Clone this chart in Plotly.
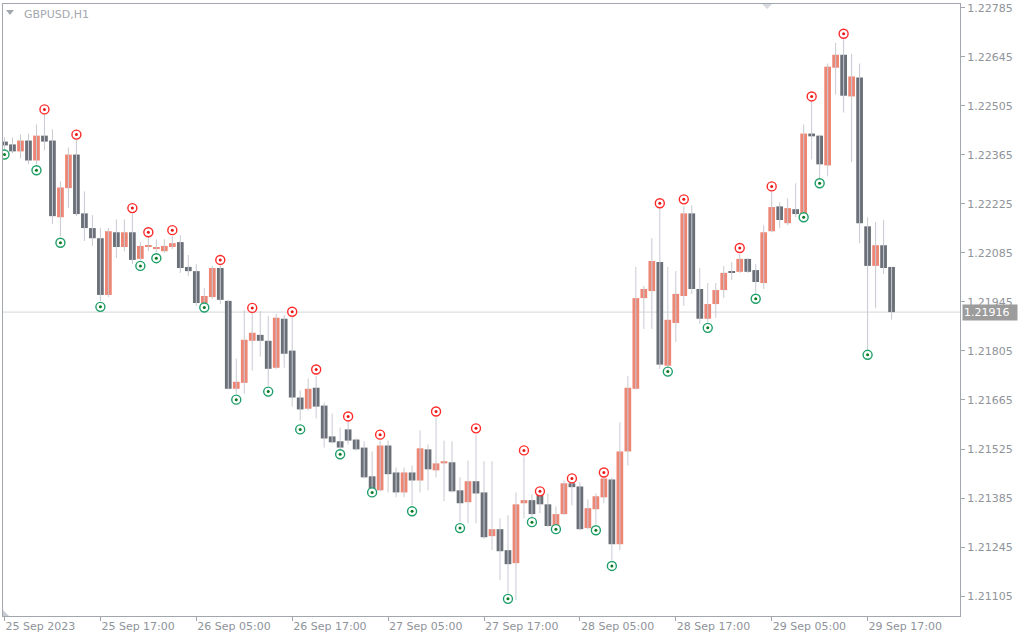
import plotly.graph_objects as go
import numpy as np

# ---------------- data (GBPUSD, H1, from 25 Sep 05:00) ----------------
opens = [1.22403, 1.22395, 1.22375, 1.22406, 1.22349, 1.22420, 1.22406, 1.22187, 1.22270, 1.22366,
         1.22198, 1.22156, 1.22127, 1.21965, 1.22144, 1.22102, 1.22144, 1.22068, 1.22102, 1.22096,
         1.22090, 1.22102, 1.22116, 1.22045, 1.22033, 1.21942, 1.21959, 1.22042, 1.21948, 1.21697,
         1.21714, 1.21834, 1.21851, 1.21834, 1.21757, 1.21897, 1.21806, 1.21672, 1.21640, 1.21700,
         1.21649, 1.21561, 1.21547, 1.21581, 1.21552, 1.21529, 1.21447, 1.21407, 1.21535, 1.21458,
         1.21401, 1.21458, 1.21435, 1.21524, 1.21464, 1.21484, 1.21487, 1.21407, 1.21373, 1.21433,
         1.21401, 1.21276, 1.21296, 1.21236, 1.21199, 1.21370, 1.21379, 1.21398, 1.21367, 1.21302,
         1.21339, 1.21427, 1.21418, 1.21299, 1.21353, 1.21387, 1.21438, 1.21253, 1.21518, 1.21697,
         1.21956, 1.21976, 1.22059, 1.21763, 1.21885, 1.21962, 1.22198, 1.21982, 1.21897, 1.21939,
         1.21979, 1.22033, 1.22031, 1.22068, 1.22036, 1.21999, 1.22147, 1.22218, 1.22170, 1.22210,
         1.22193, 1.22426, 1.22420, 1.22335, 1.22614, 1.22651, 1.22532, 1.22586, 1.22161, 1.22048,
         1.22107, 1.22045]
highs = [1.22415, 1.22415, 1.22423, 1.22426, 1.22452, 1.22483, 1.22438, 1.22290, 1.22386, 1.22412,
         1.22261, 1.22193, 1.22156, 1.22156, 1.22181, 1.22181, 1.22198, 1.22116, 1.22130, 1.22124,
         1.22124, 1.22133, 1.22136, 1.22079, 1.22053, 1.21985, 1.22048, 1.22048, 1.21951, 1.21783,
         1.21922, 1.21914, 1.21919, 1.21905, 1.21911, 1.21908, 1.21902, 1.21692, 1.21726, 1.21734,
         1.21658, 1.21626, 1.21586, 1.21606, 1.21555, 1.21547, 1.21518, 1.21549, 1.21549, 1.21472,
         1.21472, 1.21478, 1.21578, 1.21538, 1.21615, 1.21549, 1.21547, 1.21444, 1.21492, 1.21566,
         1.21490, 1.21490, 1.21327, 1.21336, 1.21401, 1.21504, 1.21396, 1.21413, 1.21398, 1.21361,
         1.21435, 1.21433, 1.21430, 1.21381, 1.21398, 1.21447, 1.21444, 1.21601, 1.21734, 1.22045,
         1.21991, 1.22127, 1.22213, 1.22045, 1.22033, 1.22218, 1.22221, 1.22042, 1.21999, 1.21999,
         1.22048, 1.22059, 1.22082, 1.22070, 1.22053, 1.22164, 1.22261, 1.22230, 1.22241, 1.22284,
         1.22452, 1.22517, 1.22423, 1.22626, 1.22685, 1.22697, 1.22654, 1.22626, 1.22187, 1.22173,
         1.22179, 1.22045]
lows = [1.22381, 1.22369, 1.22355, 1.22338, 1.22338, 1.22378, 1.22167, 1.22133, 1.22213, 1.22190,
        1.22119, 1.22105, 1.21948, 1.21959, 1.22070, 1.22090, 1.22053, 1.22065, 1.22090, 1.22087,
        1.22085, 1.22096, 1.22028, 1.22019, 1.21934, 1.21939, 1.21954, 1.21939, 1.21695, 1.21683,
        1.21683, 1.21749, 1.21789, 1.21706, 1.21754, 1.21757, 1.21646, 1.21606, 1.21635, 1.21612,
        1.21529, 1.21541, 1.21521, 1.21538, 1.21521, 1.21441, 1.21404, 1.21404, 1.21401, 1.21387,
        1.21387, 1.21364, 1.21401, 1.21407, 1.21444, 1.21376, 1.21401, 1.21316, 1.21313, 1.21313,
        1.21268, 1.21236, 1.21151, 1.21114, 1.21094, 1.21327, 1.21330, 1.21342, 1.21302, 1.21299,
        1.21336, 1.21364, 1.21293, 1.21296, 1.21310, 1.21370, 1.21208, 1.21236, 1.21478, 1.21695,
        1.21868, 1.21868, 1.21754, 1.21760, 1.21831, 1.21934, 1.21968, 1.21882, 1.21888, 1.21900,
        1.21956, 1.22008, 1.22028, 1.22028, 1.21971, 1.21982, 1.22144, 1.22156, 1.22164, 1.22187,
        1.22190, 1.22352, 1.22298, 1.22304, 1.22537, 1.22486, 1.22344, 1.22113, 1.21811, 1.21928,
        1.22025, 1.21894]
closes = [1.22392, 1.22375, 1.22406, 1.22349, 1.22420, 1.22403, 1.22190, 1.22272, 1.22366, 1.22196,
          1.22156, 1.22127, 1.21965, 1.22147, 1.22102, 1.22144, 1.22065, 1.22105, 1.22107, 1.22102,
          1.22105, 1.22113, 1.22042, 1.22033, 1.21942, 1.21962, 1.22042, 1.21951, 1.21697, 1.21717,
          1.21837, 1.21857, 1.21834, 1.21754, 1.21900, 1.21797, 1.21672, 1.21638, 1.21697, 1.21646,
          1.21555, 1.21544, 1.21529, 1.21549, 1.21524, 1.21444, 1.21407, 1.21535, 1.21453, 1.21401,
          1.21458, 1.21435, 1.21527, 1.21467, 1.21484, 1.21490, 1.21404, 1.21370, 1.21433, 1.21398,
          1.21273, 1.21296, 1.21233, 1.21196, 1.21367, 1.21379, 1.21339, 1.21367, 1.21305, 1.21339,
          1.21427, 1.21416, 1.21296, 1.21356, 1.21390, 1.21441, 1.21253, 1.21518, 1.21700, 1.21956,
          1.21982, 1.22062, 1.21766, 1.21894, 1.21968, 1.22198, 1.21982, 1.21897, 1.21939, 1.21979,
          1.22028, 1.22028, 1.22068, 1.22031, 1.22002, 1.22144, 1.22216, 1.22179, 1.22213, 1.22196,
          1.22426, 1.22418, 1.22338, 1.22617, 1.22651, 1.22534, 1.22589, 1.22170, 1.22048, 1.22107,
          1.22042, 1.21916]

# fractal markers (bar index, marker price)
up_idx = [5, 9, 16, 18, 21, 27, 31, 36, 39, 43, 47, 54, 59, 65, 67, 71, 75, 82, 85, 92, 96, 101, 105]
up_price = [1.22495, 1.22423, 1.22213, 1.22144, 1.22150, 1.22065, 1.21928, 1.21917, 1.21752, 1.21618,
            1.21566, 1.21632, 1.21584, 1.21521, 1.21404, 1.21441, 1.21458, 1.22227, 1.22238, 1.22099,
            1.22275, 1.22532, 1.22711]
dn_idx = [0, 4, 7, 12, 17, 19, 25, 29, 33, 37, 42, 46, 51, 57, 63, 66, 69, 74, 76, 83, 88, 94, 100, 102, 108]
dn_price = [1.22366, 1.22321, 1.22114, 1.21931, 1.22048, 1.22070, 1.21929, 1.21666, 1.21689, 1.21581,
            1.21510, 1.21401, 1.21347, 1.21299, 1.21097, 1.21316, 1.21296, 1.21293, 1.21191, 1.21746,
            1.21871, 1.21954, 1.22187, 1.22284, 1.21794]

x_tick_idx = [0, 12, 24, 36, 48, 60, 72, 84, 96, 108]
x_tick_labels = ["25 Sep 2023", "25 Sep 17:00", "26 Sep 05:00", "26 Sep 17:00", "27 Sep 05:00",
                 "27 Sep 17:00", "28 Sep 05:00", "28 Sep 17:00", "29 Sep 05:00", "29 Sep 17:00"]
y_tick_labels = ["1.21105", "1.21245", "1.21385", "1.21525", "1.21665", "1.21805", "1.21945",
                 "1.22085", "1.22225", "1.22365", "1.22505", "1.22645", "1.22785"]
last_price = 1.21916
symbol_title = "GBPUSD,H1"

# ---------------- styling ----------------
BULL = "#ee8676"
BEAR = "#6b7078"
WICK = "#c6cad1"
AXIS = "#a2a6ad"
TXT = "#8f939a"
FONT = "DejaVu Sans"

o = np.array(opens); h = np.array(highs); l = np.array(lows); c = np.array(closes)
idx = np.arange(len(o))
base = np.minimum(o, c)
height = np.maximum(np.abs(c - o), 0.00003)
colors = [BULL if cc >= oo else BEAR for oo, cc in zip(o, c)]

wx, wy = [], []
for i in idx:
    wx += [i, i, None]
    wy += [l[i], h[i], None]

fig = go.Figure()
fig.add_trace(go.Scatter(x=wx, y=wy, mode="lines", line=dict(color=WICK, width=1),
                         hoverinfo="skip", showlegend=False))
fig.add_trace(go.Bar(x=idx, y=height, base=base, width=0.84,
                     marker=dict(color=colors, line=dict(width=0)),
                     hoverinfo="skip", showlegend=False))
# fractal up (red) markers
fig.add_trace(go.Scatter(x=up_idx, y=up_price, mode="markers",
                         marker=dict(symbol="circle", size=9, color="white",
                                     line=dict(color="#ff2a2a", width=1.4)),
                         hoverinfo="skip", showlegend=False))
fig.add_trace(go.Scatter(x=up_idx, y=up_price, mode="markers",
                         marker=dict(symbol="circle", size=3, color="#e81818", line=dict(width=0)),
                         hoverinfo="skip", showlegend=False))
# fractal down (green) markers
fig.add_trace(go.Scatter(x=dn_idx, y=dn_price, mode="markers",
                         marker=dict(symbol="circle", size=9, color="white",
                                     line=dict(color="#1f9f6a", width=1.4)),
                         hoverinfo="skip", showlegend=False))
fig.add_trace(go.Scatter(x=dn_idx, y=dn_price, mode="markers",
                         marker=dict(symbol="circle", size=3, color="#0c7a22", line=dict(width=0)),
                         hoverinfo="skip", showlegend=False))

# last price line
fig.add_shape(type="line", xref="paper", x0=0, x1=1, yref="y", y0=last_price, y1=last_price,
              line=dict(color="#d3d6db", width=1), layer="below")
# last price label
fig.add_annotation(xref="paper", x=1, xanchor="left", xshift=2, yref="y", y=last_price,
                   yanchor="middle", text=f"{last_price:.5f}", showarrow=False,
                   font=dict(family=FONT, size=11, color="white"),
                   bgcolor="#9c9c9c", borderpad=1, width=52, align="left")
# title
fig.add_annotation(xref="paper", yref="paper", x=0.0195, y=0.9835, xanchor="left", yanchor="middle",
                   text=symbol_title, showarrow=False,
                   font=dict(family=FONT, size=11, color="#a3a7ae"))
# small triangles (MT4 chrome)
fig.add_shape(type="path", xref="paper", yref="paper",
              path="M 0.0031 0.9902 L 0.0115 0.9902 L 0.0073 0.9821 Z",
              fillcolor="#a3a7ae", line=dict(width=0))
fig.add_shape(type="path", xref="paper", yref="paper",
              path="M 0.7933 1.0 L 0.8037 1.0 L 0.7985 0.9919 Z",
              fillcolor="#d6d9de", line=dict(width=0))
fig.add_shape(type="path", xref="paper", yref="paper",
              path="M 0.0 0.0098 L 0.0 0.0 L 0.0063 0.0 Z",
              fillcolor="#c8ccd2", line=dict(width=0))

fig.update_layout(
    width=1024, height=640,
    margin=dict(l=2, r=64, t=2, b=24),
    paper_bgcolor="white", plot_bgcolor="white",
    barmode="overlay", showlegend=False,
    font=dict(family=FONT, size=11, color=TXT),
    xaxis=dict(range=[-0.1875, 119.5625], showgrid=False, zeroline=False,
               showline=True, linecolor=AXIS, linewidth=1, mirror=True,
               ticks="outside", ticklen=4, tickcolor=AXIS,
               tickvals=x_tick_idx, ticktext=x_tick_labels,
               ticklabelposition="outside right", ticklabeloverflow="allow",
               tickfont=dict(family=FONT, size=11, color=TXT), fixedrange=True),
    yaxis=dict(range=[1.21048, 1.22796], side="right", showgrid=False, zeroline=False,
               showline=True, linecolor=AXIS, linewidth=1, mirror=True,
               ticks="outside", ticklen=4, tickcolor=AXIS,
               tickvals=[float(t) for t in y_tick_labels], ticktext=y_tick_labels,
               ticklabeloverflow="allow",
               tickfont=dict(family=FONT, size=11, color=TXT), fixedrange=True),
)

fig.write_html("out.html", config={"displayModeBar": False},
               post_script="document.body.style.margin='0';document.body.style.overflow='hidden';")
